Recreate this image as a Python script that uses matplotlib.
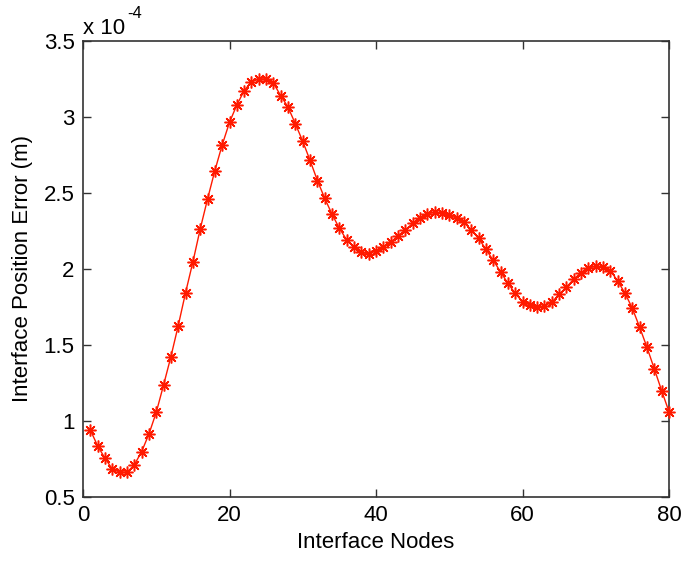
import matplotlib
matplotlib.use('Agg')
import matplotlib.pyplot as plt
import numpy as np

plt.rcParams['font.family'] = ['Liberation Sans', 'DejaVu Sans']

# interface position error, in units of 1e-4 m, nodes 1..80
nodes = np.arange(1, 81)
error = [0.941, 0.836, 0.755, 0.684, 0.664, 0.662, 0.711, 0.798, 0.914, 1.057,
         1.237, 1.423, 1.627, 1.844, 2.046, 2.263, 2.460, 2.647, 2.816, 2.965,
         3.079, 3.173, 3.232, 3.250, 3.250, 3.222, 3.140, 3.064, 2.954, 2.840,
         2.714, 2.582, 2.465, 2.360, 2.268, 2.191, 2.143, 2.110, 2.099, 2.120,
         2.143, 2.176, 2.219, 2.257, 2.300, 2.334, 2.360, 2.377, 2.366, 2.355,
         2.334, 2.307, 2.257, 2.202, 2.130, 2.057, 1.982, 1.906, 1.840, 1.785,
         1.763, 1.748, 1.757, 1.781, 1.834, 1.880, 1.934, 1.976, 2.005, 2.020,
         2.011, 1.989, 1.921, 1.840, 1.741, 1.616, 1.484, 1.342, 1.199, 1.061]
xticks = [0, 20, 40, 60, 80]
yticks = [0.5, 1, 1.5, 2, 2.5, 3, 3.5]

fig = plt.figure(figsize=(6.84, 5.62), dpi=100)
ax = fig.add_axes([83/684, 1-497/562, (669-83)/684, (497-41)/562])

ax.plot(nodes, error, color='#ff1a00', lw=1, marker=(8, 2, 0), ms=8.5, mew=1.1,
        clip_on=False, zorder=3)

ax.set_xlim(0, 80)
ax.set_ylim(0.5, 3.5)
ax.set_xticks(xticks)
ax.set_yticks(yticks)
ax.set_xticklabels([str(t) for t in xticks])
ax.set_yticklabels(['0.5', '1', '1.5', '2', '2.5', '3', '3.5'])
ax.tick_params(direction='in', top=True, right=True, length=6, width=1,
               labelsize=16, pad=6, color='#333333')
for s in ax.spines.values():
    s.set_linewidth(1.2)
    s.set_color('#333333')

ax.set_xlabel('Interface Nodes', fontsize=16, labelpad=4)
ax.set_ylabel('Interface Position Error (m)', fontsize=16, labelpad=8)

fig.text(83/684, 1-34/562, 'x 10', fontsize=16, ha='left', va='baseline')
fig.text(127/684, 1-18/562, '-4', fontsize=12, ha='left', va='baseline')

fig.savefig('out.png', dpi=100)
